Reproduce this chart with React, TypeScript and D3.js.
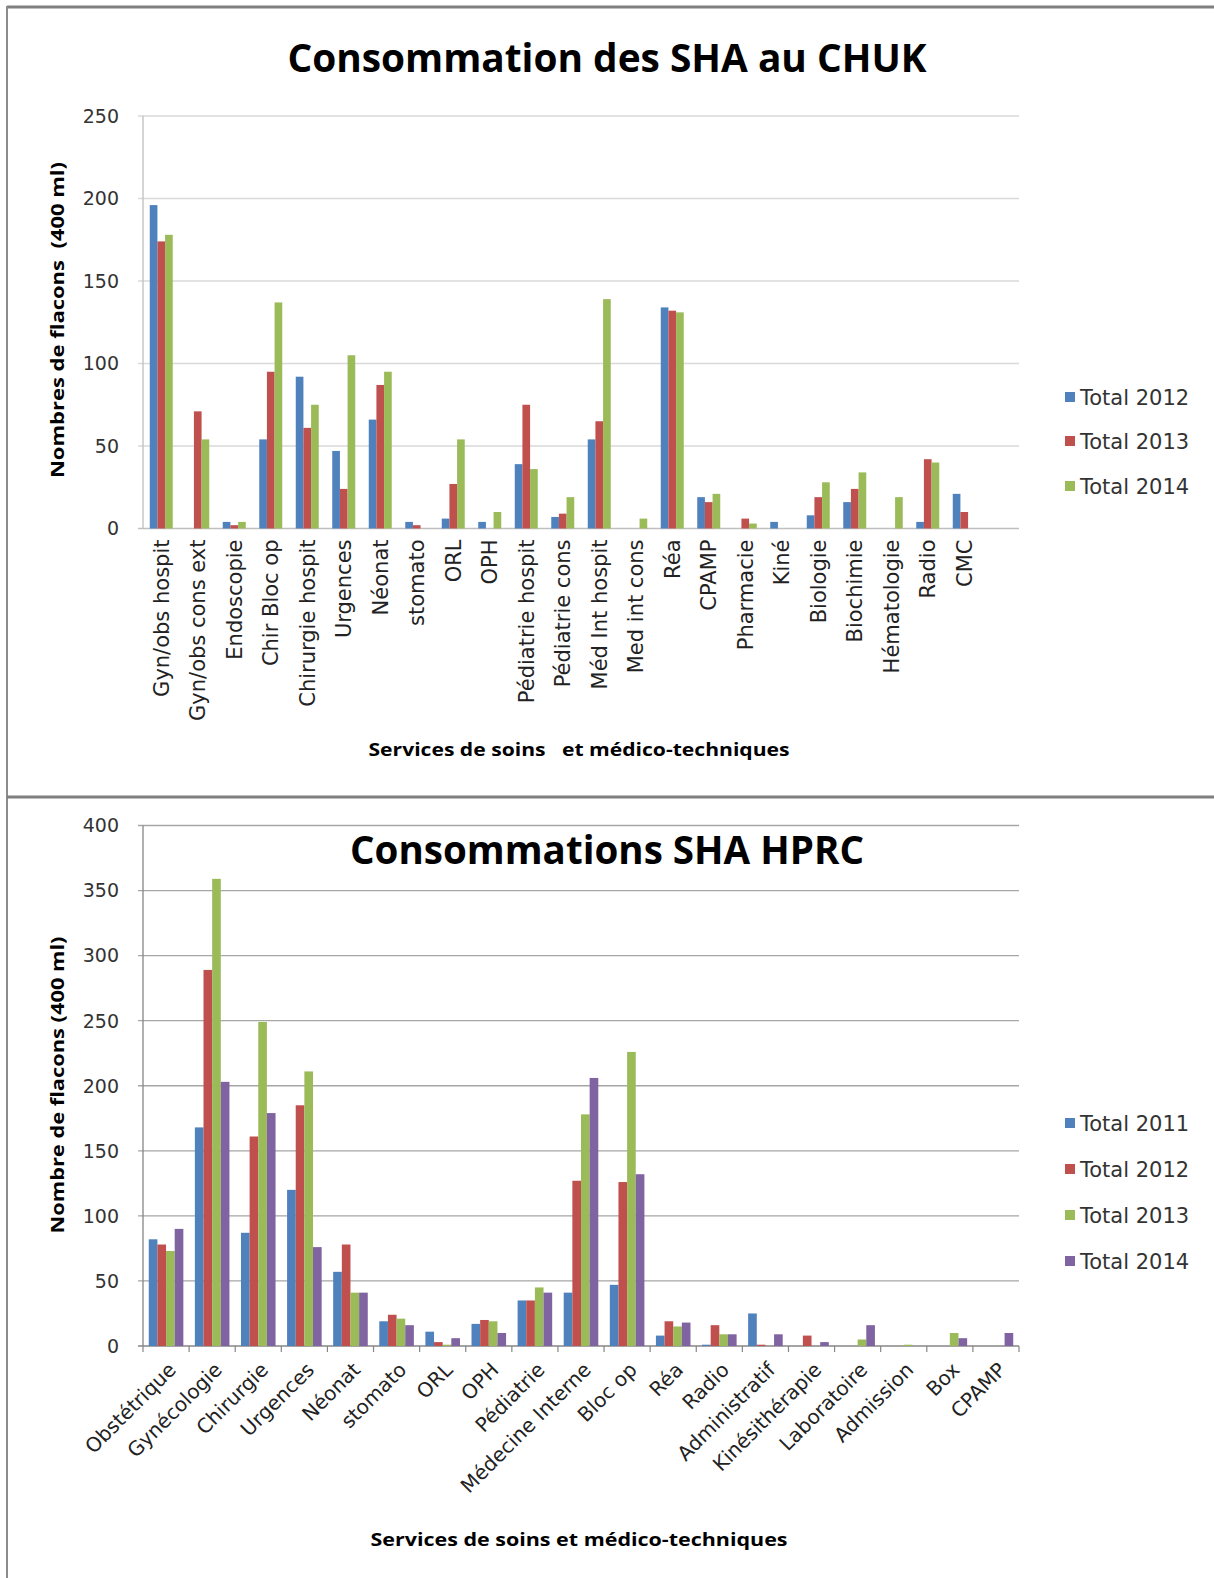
import React from "react";
import * as d3 from "d3";

// ---------- Data: CHUK ----------
const chukCategories = [
  "Gyn/obs hospit", "Gyn/obs cons ext", "Endoscopie", "Chir Bloc op", "Chirurgie hospit",
  "Urgences", "Néonat", "stomato", "ORL", "OPH", "Pédiatrie hospit", "Pédiatrie cons",
  "Méd Int hospit", "Med int cons", "Réa", "CPAMP", "Pharmacie", "Kiné", "Biologie",
  "Biochimie", "Hématologie", "Radio", "CMC", " ",
];
const chukSeries = ["Total 2012", "Total 2013", "Total 2014"];
const chuk2012 = [196, 0, 4, 54, 92, 47, 66, 4, 6, 4, 39, 7, 54, 0, 134, 19, 0, 4, 8, 16, 0, 4, 21, 0];
const chuk2013 = [174, 71, 2, 95, 61, 24, 87, 2, 27, 0, 75, 9, 65, 0, 132, 16, 6, 0, 19, 24, 0, 42, 10, 0];
const chuk2014 = [178, 54, 4, 137, 75, 105, 95, 0, 54, 10, 36, 19, 139, 6, 131, 21, 3, 0, 28, 34, 19, 40, 0, 0];
const chukTicks = [0, 50, 100, 150, 200, 250];

// ---------- Data: HPRC ----------
const hprcCategories = [
  "Obstétrique", "Gynécologie", "Chirurgie", "Urgences", "Néonat", "stomato", "ORL", "OPH",
  "Pédiatrie", "Médecine Interne", "Bloc op", "Réa", "Radio", "Administratif",
  "Kinésithérapie", "Laboratoire", "Admission", "Box", "CPAMP",
];
const hprcSeries = ["Total 2011", "Total 2012", "Total 2013", "Total 2014"];
const hprc2011 = [82, 168, 87, 120, 57, 19, 11, 17, 35, 41, 47, 8, 1, 25, 0, 0, 0, 0, 0];
const hprc2012 = [78, 289, 161, 185, 78, 24, 3, 20, 35, 127, 126, 19, 16, 1, 8, 0, 0, 0, 0];
const hprc2013 = [73, 359, 249, 211, 41, 21, 1, 19, 45, 178, 226, 15, 9, 0, 0, 5, 1, 10, 0];
const hprc2014 = [90, 203, 179, 76, 41, 16, 6, 10, 41, 206, 132, 18, 9, 9, 3, 16, 0, 6, 10];
const hprcTicks = [0, 50, 100, 150, 200, 250, 300, 350, 400];

const COLORS = ["#4F81BD", "#C0504D", "#9BBB59", "#8064A2"];
const FONT = "'DejaVu Sans', Verdana, sans-serif";
const TFONT = "'Open Sans', Calibri, sans-serif";

const W = 1214;
const H = 1578;
const X0 = 143;
const X1 = 1019;

function Chart({
  categories, series, values, ticks, yDomain, yRange, padding, gridColor, axisColor,
  title, titleY, titleLen, yTitle, yTitleCenter, yTitleLen, xTitle, xTitleY, xTitleLen,
  legendYs, rotateLabels, xTicksMarks,
}: any) {
  const x = d3.scaleBand<string>().domain(categories).range([X0, X1]).paddingInner(padding).paddingOuter(padding / 2);
  const xs = d3.scaleBand<string>().domain(series).range([0, x.bandwidth()]).padding(0);
  const y = d3.scaleLinear().domain(yDomain).range(yRange);
  const step = x.step();
  const y0 = y(0);
  return (
    <g>
      {ticks.map((t: number) => (
        <g key={"g" + t}>
          <line x1={X0 - 5} x2={X1} y1={y(t)} y2={y(t)} stroke={t === 0 ? axisColor : gridColor} strokeWidth={1.3} />
          <text x={119} y={y(t)} dy="0.36em" textAnchor="end" fontFamily={FONT} fontSize={19} fill="#333">{t}</text>
        </g>
      ))}
      <line x1={X0} x2={X0} y1={y(ticks[ticks.length - 1])} y2={y0} stroke={axisColor} strokeWidth={1.3} />
      {xTicksMarks && categories.concat(["__end"]).map((c: string, i: number) => (
        <line key={"xt" + i} x1={X0 + i * step} x2={X0 + i * step} y1={y0} y2={y0 + 6} stroke={axisColor} strokeWidth={1.2} />
      ))}
      {categories.map((c: string, i: number) => (
        <g key={"c" + i} transform={`translate(${x(c)},0)`}>
          {series.map((s: string, j: number) => {
            const v = values[j][i];
            if (!v) return null;
            return <rect key={s} x={xs(s)} y={y(v)} width={xs.bandwidth()} height={y0 - y(v)} fill={COLORS[j]} />;
          })}
        </g>
      ))}
      {categories.map((c: string, i: number) => {
        const cx = (x(c) as number) + x.bandwidth() / 2;
        if (rotateLabels === 90) {
          return (
            <text key={"l" + i} transform={`translate(${cx},${y0 + 11}) rotate(-90)`} dy="0.36em" textAnchor="end"
              fontFamily={FONT} fontSize={21} fill="#222">{c}</text>
          );
        }
        return (
          <text key={"l" + i} transform={`translate(${cx + 6},${y0 + 20}) rotate(-45)`} dy="0.36em" textAnchor="end"
            fontFamily={FONT} fontSize={20} fill="#222">{c}</text>
        );
      })}
      <text x={607} y={titleY} textAnchor="middle" fontFamily={TFONT} fontWeight={700} fontSize={40} fill="#000"
        textLength={titleLen} lengthAdjust="spacingAndGlyphs">{title}</text>
      <text transform={`translate(64,${yTitleCenter}) rotate(-90)`} textAnchor="middle" fontFamily={TFONT} fontWeight={700}
        fontSize={18} fill="#000" textLength={yTitleLen} lengthAdjust="spacingAndGlyphs" style={{ whiteSpace: "pre" }}>{yTitle}</text>
      <text x={579} y={xTitleY} textAnchor="middle" fontFamily={TFONT} fontWeight={700} fontSize={18} fill="#000"
        textLength={xTitleLen} lengthAdjust="spacingAndGlyphs" style={{ whiteSpace: "pre" }}>{xTitle}</text>
      {series.map((s: string, j: number) => (
        <g key={"lg" + s} transform={`translate(1065,${legendYs[j]})`}>
          <rect x={0} y={-5} width={10} height={10} fill={COLORS[j]} />
          <text x={15} y={0} dy="0.36em" fontFamily={FONT} fontSize={21} fill="#333">{s}</text>
        </g>
      ))}
    </g>
  );
}

export default function App() {
  return (
    <svg width={W} height={H} style={{ position: "absolute", left: 0, top: 0, background: "#fff" }}>
      <rect x={0} y={0} width={W} height={H} fill="#fff" />
      <Chart
        categories={chukCategories}
        series={chukSeries}
        values={[chuk2012, chuk2013, chuk2014]}
        ticks={chukTicks}
        yDomain={[0, 250]}
        yRange={[528.5, 116]}
        padding={0.37}
        gridColor="#d9d9d9"
        axisColor="#bfbfbf"
        title="Consommation des SHA au CHUK"
        titleY={72}
        titleLen={639}
        yTitle="Nombres de flacons  (400 ml)"
        yTitleCenter={320}
        yTitleLen={316}
        xTitle="Services de soins   et médico-techniques"
        xTitleY={756}
        xTitleLen={421}
        legendYs={[397, 441, 486]}
        rotateLabels={90}
        xTicksMarks={false}
      />
      <Chart
        categories={hprcCategories}
        series={hprcSeries}
        values={[hprc2011, hprc2012, hprc2013, hprc2014]}
        ticks={hprcTicks}
        yDomain={[0, 400]}
        yRange={[1346, 825.5]}
        padding={0.25}
        gridColor="#a6a6a6"
        axisColor="#868686"
        title="Consommations SHA HPRC"
        titleY={864}
        titleLen={514}
        yTitle="Nombre de flacons (400 ml)"
        yTitleCenter={1085}
        yTitleLen={297}
        xTitle="Services de soins et médico-techniques"
        xTitleY={1546}
        xTitleLen={417}
        legendYs={[1123, 1169, 1215, 1261]}
        rotateLabels={45}
        xTicksMarks={true}
      />
      <line x1={7} x2={W} y1={7} y2={7} stroke="#7f7f7f" strokeWidth={3} />
      <line x1={7} x2={7} y1={6} y2={H} stroke="#8c8c8c" strokeWidth={2} />
      <line x1={7} x2={W} y1={797} y2={797} stroke="#7f7f7f" strokeWidth={3} />
    </svg>
  );
}
